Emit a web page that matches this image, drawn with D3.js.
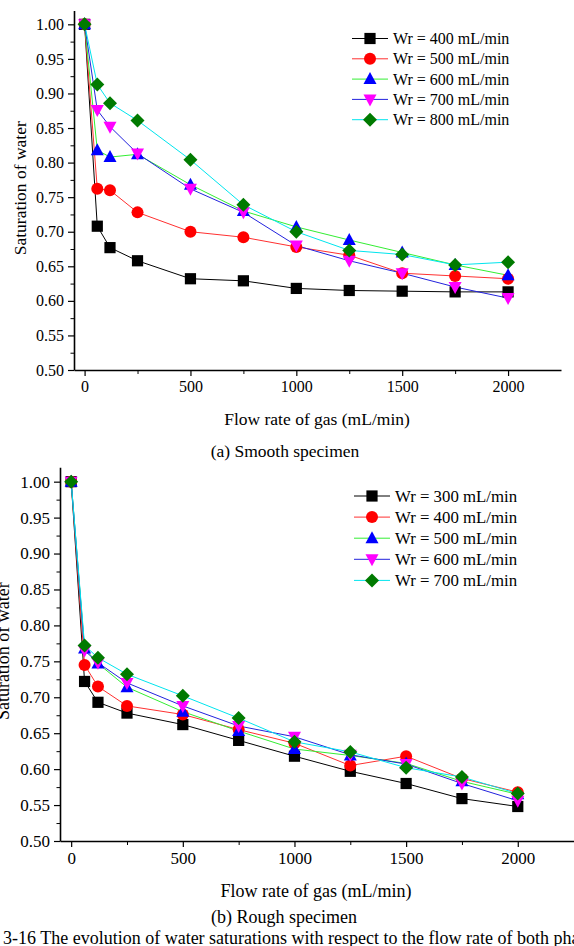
<!DOCTYPE html>
<html>
<head>
<meta charset="utf-8">
<script src="https://cdn.jsdelivr.net/npm/d3@7"></script>
<style>
  body { margin: 0; background: #fff; }
</style>
</head>
<body>
<svg id="chart" width="574" height="946"></svg>
<script>
// gas flow rates (mL/min), same for every series
const flow = [0, 60, 120, 250, 500, 750, 1000, 1250, 1500, 1750, 2000];
const yTicks = [0.50, 0.55, 0.60, 0.65, 0.70, 0.75, 0.80, 0.85, 0.90, 0.95, 1.00];
const xTicks = [0, 500, 1000, 1500, 2000];

// (a) smooth specimen
const smoothNames = ['Wr = 400 mL/min', 'Wr = 500 mL/min', 'Wr = 600 mL/min', 'Wr = 700 mL/min', 'Wr = 800 mL/min'];
const smooth400 = [1.00, 0.708, 0.677, 0.658, 0.632, 0.629, 0.618, 0.615, 0.614, 0.613, 0.613];
const smooth500 = [1.00, 0.762, 0.760, 0.728, 0.700, 0.692, 0.678, 0.666, 0.640, 0.636, 0.632];
const smooth600 = [1.00, 0.818, 0.808, 0.812, 0.768, 0.730, 0.707, 0.688, 0.670, 0.652, 0.637];
const smooth700 = [1.00, 0.876, 0.852, 0.813, 0.762, 0.728, 0.680, 0.658, 0.640, 0.620, 0.604];
const smooth800 = [1.00, 0.913, 0.886, 0.861, 0.804, 0.739, 0.700, 0.673, 0.667, 0.652, 0.656];

// (b) rough specimen
const roughNames = ['Wr = 300 mL/min', 'Wr = 400 mL/min', 'Wr = 500 mL/min', 'Wr = 600 mL/min', 'Wr = 700 mL/min'];
const rough300 = [1.00, 0.722, 0.693, 0.678, 0.662, 0.640, 0.618, 0.597, 0.580, 0.559, 0.548];
const rough400 = [1.00, 0.745, 0.715, 0.688, 0.676, 0.655, 0.636, 0.605, 0.618, 0.587, 0.568];
const rough500 = [1.00, 0.768, 0.747, 0.714, 0.680, 0.653, 0.628, 0.619, 0.608, 0.583, 0.565];
const rough600 = [1.00, 0.765, 0.748, 0.720, 0.688, 0.660, 0.645, 0.620, 0.607, 0.580, 0.556];
const rough700 = [1.00, 0.772, 0.755, 0.732, 0.702, 0.671, 0.638, 0.624, 0.602, 0.589, 0.566];

const lineColors = ['#000000', '#ff3030', '#33ee33', '#2222dd', '#00e5ee'];
const markColors = ['#000000', '#ff0000', '#0000ff', '#ff00ff', '#007a00'];
const markShapes = ['square', 'circle', 'up', 'down', 'diamond'];
const serif = '"Liberation Serif", "Times New Roman", serif';

const svg = d3.select('#chart');

function marker(g, shape, color, cx, cy) {
    let s = 5.6;
    if (shape === 'square') {
        g.append('rect').attr('x', cx - s).attr('y', cy - s).attr('width', 2 * s).attr('height', 2 * s).attr('fill', color);
    } else if (shape === 'circle') {
        g.append('circle').attr('cx', cx).attr('cy', cy).attr('r', 6).attr('fill', color);
    } else if (shape === 'up') {
        g.append('path').attr('d', `M${cx},${cy - 7}L${cx + 6.5},${cy + 5}L${cx - 6.5},${cy + 5}Z`).attr('fill', color);
    } else if (shape === 'down') {
        g.append('path').attr('d', `M${cx},${cy + 7}L${cx + 6.5},${cy - 5}L${cx - 6.5},${cy - 5}Z`).attr('fill', color);
    } else {
        g.append('path').attr('d', `M${cx},${cy - 7}L${cx + 7},${cy}L${cx},${cy + 7}L${cx - 7},${cy}Z`).attr('fill', color);
    }
}

function label(g, x, y, size, str) {
    return g.append('text').attr('x', x).attr('y', y)
        .style('font-family', serif).style('font-size', size + 'px').attr('fill', '#000').text(str);
}

function drawPanel(p) {
    const x = d3.scaleLinear().domain([-50, 2250]).range([p.left, p.right]);
    const y = d3.scaleLinear().domain([0.5, 1.02]).range([p.bottom, p.top]);
    const g = svg.append('g');

    // axes
    const xAxis = d3.axisBottom(x).tickValues(xTicks).tickSize(6).tickSizeOuter(0).tickFormat(d3.format('d'));
    const gx = g.append('g').attr('transform', `translate(0,${p.bottom})`).call(xAxis);
    gx.select('.domain').attr('stroke-width', 1.6);
    gx.selectAll('.tick line').attr('stroke-width', 1.2);
    gx.selectAll('text').style('font-family', serif).style('font-size', p.font + 'px').attr('dy', '0.9em').attr('y', 8);

    const xMinor = d3.axisBottom(x).tickValues([250, 750, 1250, 1750]).tickSize(4).tickFormat('');
    const gxm = g.append('g').attr('transform', `translate(0,${p.bottom})`).call(xMinor);
    gxm.select('.domain').remove();

    const yAxis = d3.axisLeft(y).tickValues(yTicks).tickSize(6).tickSizeOuter(0).tickFormat(d3.format('.2f'));
    const gy = g.append('g').attr('transform', `translate(${p.left},0)`).call(yAxis);
    gy.select('.domain').attr('stroke-width', 1.6);
    gy.selectAll('.tick line').attr('stroke-width', 1.2);
    gy.selectAll('text').style('font-family', serif).style('font-size', p.font + 'px').attr('x', -10);

    const yMinor = d3.axisLeft(y).tickValues(d3.range(0.525, 1.0, 0.05)).tickSize(3.5).tickFormat('');
    const gym = g.append('g').attr('transform', `translate(${p.left},0)`).call(yMinor);
    gym.select('.domain').remove();

    // series
    const line = d3.line().x((d, i) => x(flow[i])).y(d => y(d));
    p.series.forEach((vals, k) => {
        g.append('path').datum(vals).attr('d', line)
            .attr('fill', 'none').attr('stroke', lineColors[k]).attr('stroke-width', 1);
    });
    p.series.forEach((vals, k) => {
        const mg = g.append('g');
        vals.forEach((v, i) => marker(mg, markShapes[k], markColors[k], x(flow[i]), y(v)));
    });

    // legend
    const lg = g.append('g');
    p.names.forEach((name, k) => {
        const ly = p.legY + k * p.legStep;
        lg.append('line').attr('x1', p.legX).attr('x2', p.legX + 36).attr('y1', ly).attr('y2', ly)
            .attr('stroke', lineColors[k]).attr('stroke-width', 1);
        marker(lg, markShapes[k], markColors[k], p.legX + 18, ly);
        label(lg, p.legX + 41, ly, p.legFont, name).attr('dy', '0.35em');
    });

    // labels
    label(g, 0, 0, p.titleFont, 'Saturation of water')
        .attr('transform', `translate(${p.yLabX},${(p.top + p.bottom) / 2 + p.yLabShift}) rotate(-90)`)
        .attr('text-anchor', 'middle');
    label(g, p.xLabX, p.xLabY, p.titleFont, 'Flow rate of gas (mL/min)').attr('text-anchor', 'middle');
    label(g, p.capX, p.capY, p.titleFont, p.caption).attr('text-anchor', 'middle');
}

drawPanel({
    left: 74, right: 561, top: 10.5, bottom: 370,
    series: [smooth400, smooth500, smooth600, smooth700, smooth800], names: smoothNames,
    legX: 352, legY: 38.5, legStep: 20.3, legFont: 16,
    font: 16, titleFont: 17.5, yLabX: 26, yLabShift: -2, xLabX: 317, xLabY: 425,
    capX: 285, capY: 457, caption: '(a) Smooth specimen'
});

drawPanel({
    left: 60, right: 573.6, top: 467.3, bottom: 841,
    series: [rough300, rough400, rough500, rough600, rough700], names: roughNames,
    legX: 354, legY: 496, legStep: 21.1, legFont: 16.8,
    font: 17, titleFont: 18, yLabX: 9, yLabShift: -3, xLabX: 316, xLabY: 897,
    capX: 284, capY: 923, caption: '(b) Rough specimen'
});

label(svg, 3, 944, 18, '3-16 The evolution of water saturations with respect to the flow rate of both phases');
</script>
</body>
</html>
